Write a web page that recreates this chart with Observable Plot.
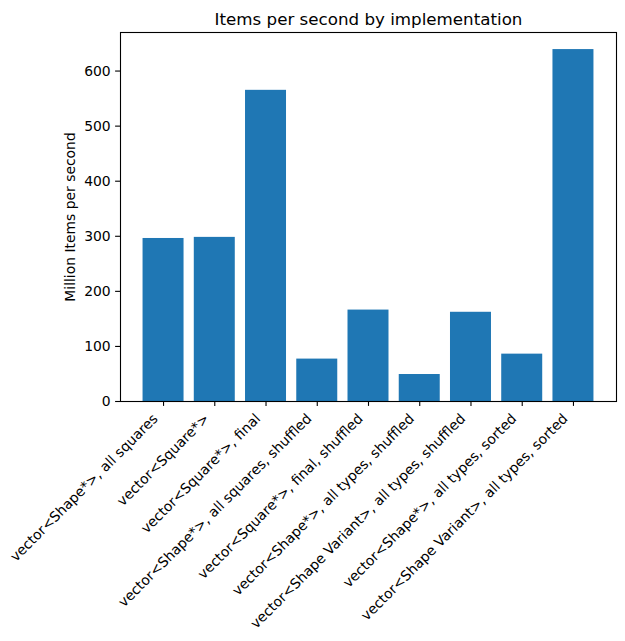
<!DOCTYPE html>
<html><head><meta charset="utf-8">
<script src="https://cdn.jsdelivr.net/npm/d3@7"></script>
<script src="https://cdn.jsdelivr.net/npm/@observablehq/plot@0.6"></script>
<style>body{margin:0;background:#fff;}</style>
</head><body><div id="chart"></div>
<script>
const categories = [
  "vector<Shape*>, all squares",
  "vector<Square*>",
  "vector<Square*>, final",
  "vector<Shape*>, all squares, shuffled",
  "vector<Square*>, final, shuffled",
  "vector<Shape*>, all types, shuffled",
  "vector<Shape Variant>, all types, shuffled",
  "vector<Shape*>, all types, sorted",
  "vector<Shape Variant>, all types, sorted"
];
const values = [296, 298, 565, 77, 166, 49, 162, 86, 639];
const yTicks = [0, 100, 200, 300, 400, 500, 600];
const title = "Items per second by implementation";
const yLabel = "Million Items per second";

const data = categories.map((c, i) => ({category: c, value: values[i]}));

const chart = Plot.plot({
  width: 625, height: 641,
  marginLeft: 120, marginRight: 9, marginTop: 32, marginBottom: 240,
  style: {fontFamily: "DejaVu Sans", fontSize: "13.9px", color: "#000", background: "#fff", overflow: "visible"},
  x: {domain: categories, paddingInner: 0.2, paddingOuter: 0.44, round: false, label: null},
  y: {domain: [0, 670], label: null},
  marks: [
    Plot.barY(data, {x: "category", y: "value", fill: "#1f77b4"}),
    Plot.frame({stroke: "#000", strokeWidth: 1.1}),
    Plot.axisY({ticks: yTicks, tickSize: 4.9, tickPadding: 4.9, label: null, fontSize: 13.9, strokeWidth: 1.1}),
    Plot.axisX({tickSize: 4.9, tickFormat: () => "", label: null, strokeWidth: 1.1}),
    Plot.axisX({tickRotate: -45, tickSize: 0, tickPadding: 8.9, label: null, fontSize: 13.9, dx: -8, dy: 6}),
    Plot.text([title], {frameAnchor: "top", dy: -8, lineAnchor: "bottom", fontSize: 16.7}),
    Plot.text([yLabel], {frameAnchor: "left", textAnchor: "middle", rotate: -90, dx: -50, fontSize: 13.9})
  ]
});
document.getElementById("chart").appendChild(chart);
</script>
</body></html>
